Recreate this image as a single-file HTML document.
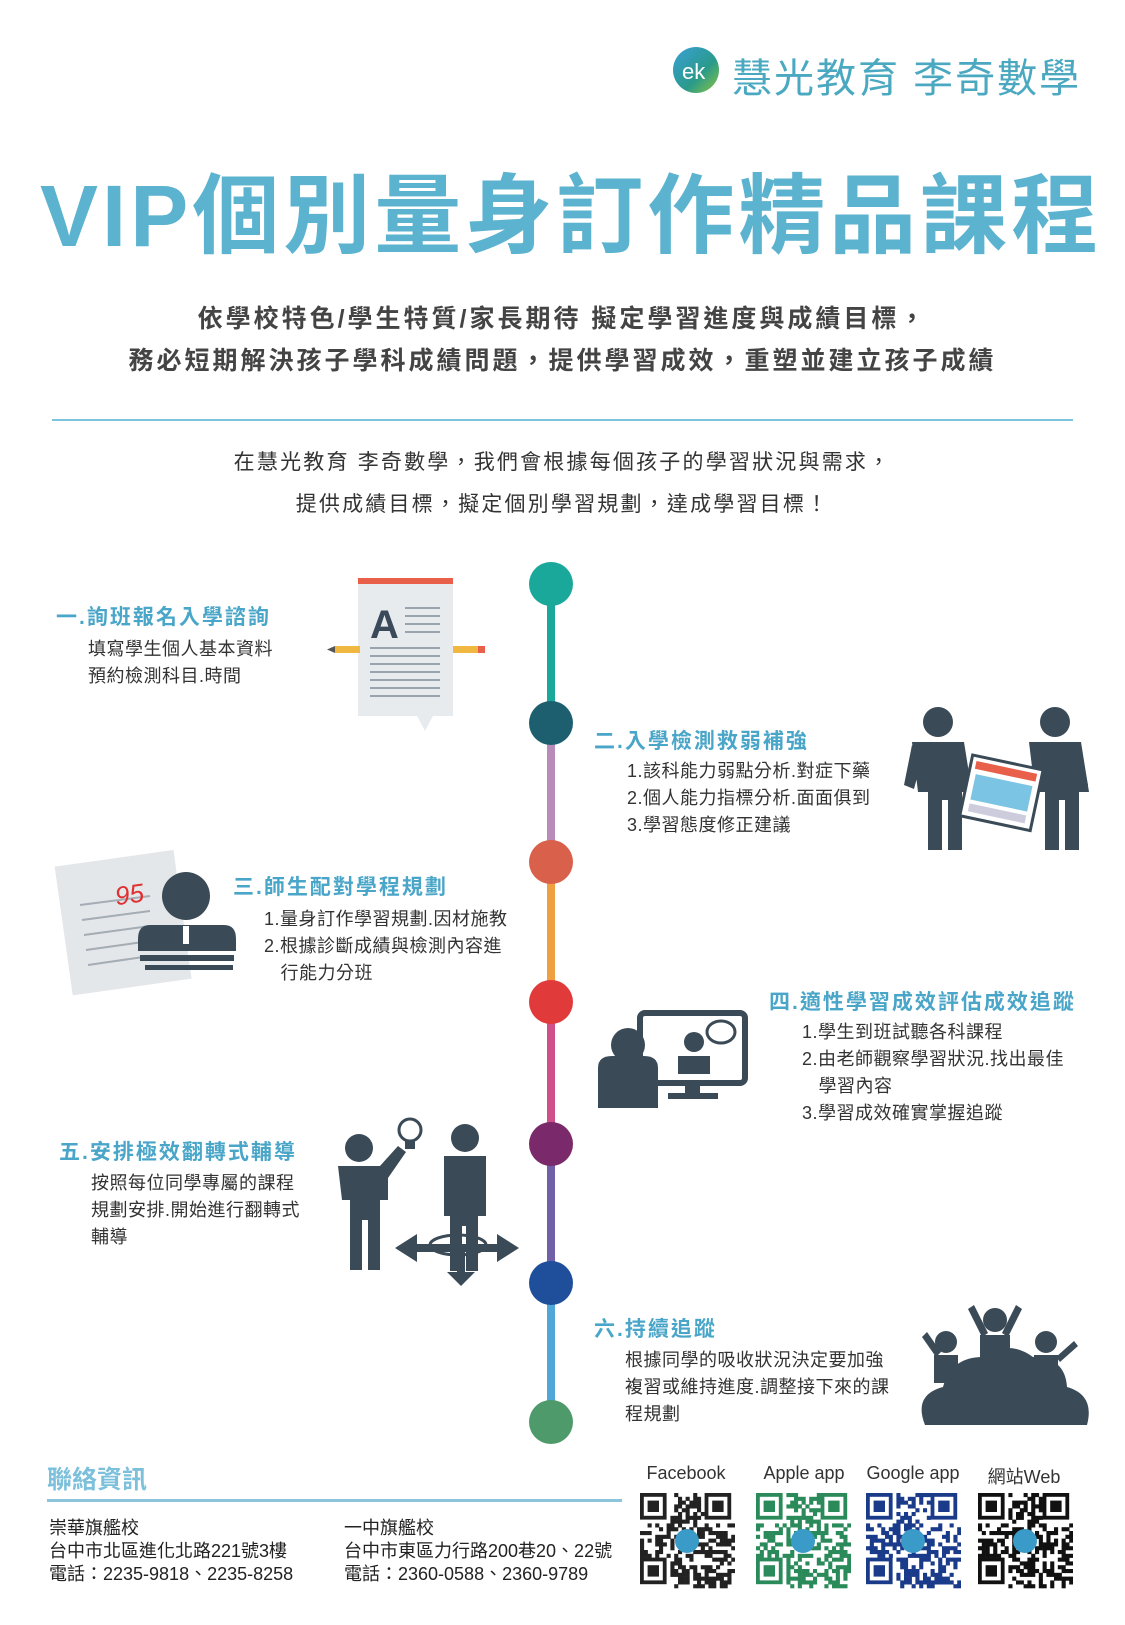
<!DOCTYPE html>
<html><head><meta charset="utf-8">
<style>
body{margin:0;background:#fff;}
#p{position:relative;width:1125px;height:1625px;overflow:hidden;font-family:"Liberation Sans","Noto Sans CJK TC",sans-serif;color:#333;}
.a{position:absolute;white-space:nowrap;}
.h{color:#4aa6c8;font-size:21px;font-weight:bold;letter-spacing:2px;}
.b{font-size:18px;color:#333;line-height:27px;letter-spacing:0.5px;}
.qr{position:absolute;top:1493px;width:95px;height:96px;}
</style></head><body><div id="p">
<!-- logo -->
<svg class="a" style="left:672px;top:46px" width="48" height="48"><defs><linearGradient id="lg" x1="0" y1="0" x2="1" y2="1"><stop offset="0" stop-color="#3aa0d8"/><stop offset=".6" stop-color="#2a9a8a"/><stop offset="1" stop-color="#8cc63f"/></linearGradient></defs><circle cx="24" cy="24" r="23" fill="url(#lg)"/><text x="10" y="33" fill="#fff" font-size="22" font-family="Liberation Sans">ek</text></svg>
<div class="a" style="left:732px;top:46px;font-size:40px;color:#4aa8c0;letter-spacing:2px">慧光教育 李奇數學</div>
<div class="a" style="left:40px;top:146px;font-size:87px;font-weight:bold;color:#5bb3cf;letter-spacing:4px">VIP個別量身訂作精品課程</div>
<div class="a" style="left:0;width:1125px;text-align:center;top:298px;font-size:25px;color:#444;font-weight:bold;letter-spacing:3px;line-height:42px">依學校特色/學生特質/家長期待 擬定學習進度與成績目標，<br>務必短期解決孩子學科成績問題，提供學習成效，重塑並建立孩子成績</div>
<div class="a" style="left:52px;top:419px;width:1021px;height:2px;background:#7cc4dc"></div>
<div class="a" style="left:0;width:1125px;text-align:center;top:442px;font-size:21px;color:#333;line-height:42px;letter-spacing:2.2px">在慧光教育 李奇數學，我們會根據每個孩子的學習狀況與需求，<br>提供成績目標，擬定個別學習規劃，達成學習目標！</div>

<!-- timeline -->
<svg class="a" style="left:0;top:0" width="1125" height="1625">
<g stroke-width="8">
<line x1="551" y1="584" x2="551" y2="723" stroke="#1aa89a"/>
<line x1="551" y1="723" x2="551" y2="862" stroke="#b98bb8"/>
<line x1="551" y1="862" x2="551" y2="1002" stroke="#f0a040"/>
<line x1="551" y1="1002" x2="551" y2="1144" stroke="#d0508a"/>
<line x1="551" y1="1144" x2="551" y2="1283" stroke="#7060a8"/>
<line x1="551" y1="1283" x2="551" y2="1422" stroke="#50a8d8"/>
</g>
<circle cx="551" cy="584" r="22" fill="#1aa89a"/>
<circle cx="551" cy="723" r="22" fill="#1e5f6f"/>
<circle cx="551" cy="862" r="22" fill="#d9604a"/>
<circle cx="551" cy="1002" r="22" fill="#e03a3a"/>
<circle cx="551" cy="1144" r="22" fill="#7a2a6a"/>
<circle cx="551" cy="1283" r="22" fill="#1f4f9a"/>
<circle cx="551" cy="1422" r="22" fill="#4e9a6a"/>

<!-- icon 1 document -->
<path d="M358 578h95v138h-20l-8 15-8-15h-59z" fill="#e8ebee"/>
<rect x="358" y="578" width="95" height="6" fill="#e8604a"/>
<text x="370" y="638" font-size="40" font-weight="bold" fill="#3a4a5a" font-family="Liberation Sans">A</text>
<g stroke="#9aa4ae" stroke-width="2"><line x1="405" y1="608" x2="440" y2="608"/><line x1="405" y1="616" x2="440" y2="616"/><line x1="405" y1="624" x2="440" y2="624"/><line x1="405" y1="632" x2="440" y2="632"/><line x1="370" y1="648" x2="440" y2="648"/><line x1="370" y1="656" x2="440" y2="656"/><line x1="370" y1="664" x2="440" y2="664"/><line x1="370" y1="672" x2="440" y2="672"/><line x1="370" y1="680" x2="440" y2="680"/><line x1="370" y1="688" x2="440" y2="688"/><line x1="370" y1="696" x2="440" y2="696"/></g>
<rect x="335" y="646" width="25" height="7" fill="#f0b840"/><path d="M335 646l-8 3.5 8 3.5z" fill="#555"/>
<rect x="453" y="646" width="30" height="7" fill="#f0b840"/><rect x="478" y="646" width="7" height="7" fill="#e8604a"/>

<!-- icon 2 people -->
<g fill="#3a4a56">
<circle cx="938" cy="722" r="15"/><path d="M912 742h52l8 50h-10v58h-14v-50h-6v50h-14v-58h-10z"/>
<circle cx="1055" cy="722" r="15"/><path d="M1029 742h52l8 50h-10v58h-14v-50h-6v50h-14v-58h-10z"/>
<path d="M912 745l-8 40 10 4 8-30z"/><path d="M1080 745l8 40-10 4-8-30z"/>
</g>
<g transform="rotate(12 1002 795)"><rect x="965" y="762" width="72" height="62" fill="#fff" stroke="#3a4a56" stroke-width="3"/><rect x="970" y="767" width="62" height="8" fill="#e8604a"/><rect x="972" y="780" width="58" height="26" fill="#7cc4e4"/><rect x="972" y="810" width="58" height="8" fill="#ccd"/></g>

<!-- icon 3 -->
<g transform="rotate(-8 120 915)"><rect x="62" y="858" width="120" height="130" fill="#e4e7ea"/></g>
<g stroke="#a4acb4" stroke-width="2"><line x1="80" y1="905" x2="150" y2="896"/><line x1="82" y1="920" x2="150" y2="911"/><line x1="84" y1="935" x2="150" y2="926"/><line x1="86" y1="950" x2="150" y2="941"/><line x1="88" y1="965" x2="150" y2="956"/></g>
<text x="115" y="904" font-size="26" fill="#e03030" font-style="italic" transform="rotate(-8 125 895)" font-family="Liberation Sans">95</text>
<g fill="#3a4a56"><circle cx="186" cy="896" r="24"/><path d="M150 925h74q12 0 12 14v12h-98v-12q0-14 12-14z"/><rect x="140" y="955" width="94" height="6"/><rect x="145" y="965" width="88" height="5"/></g>
<rect x="183" y="926" width="6" height="18" fill="#fff"/>

<!-- icon 4 -->
<rect x="640" y="1013" width="105" height="70" rx="5" fill="none" stroke="#3a4a56" stroke-width="6"/>
<rect x="685" y="1083" width="15" height="12" fill="#3a4a56"/><rect x="668" y="1093" width="50" height="6" fill="#3a4a56"/>
<g fill="#3a4a56"><circle cx="694" cy="1042" r="10"/><path d="M678 1056h32v18h-32z"/><circle cx="628" cy="1045" r="17"/><path d="M598 1068q0-12 14-12h32q14 0 14 12v40h-60z"/></g>
<ellipse cx="721" cy="1032" rx="14" ry="11" fill="#fff" stroke="#3a4a56" stroke-width="3"/>

<!-- icon 5 -->
<g fill="#3a4a56"><circle cx="359" cy="1148" r="14"/><path d="M338 1166h42l18-20 8 6-18 26v22h-8v70h-12v-50h-6v50h-12v-70h-8z"/>
<circle cx="465" cy="1138" r="14"/><path d="M444 1156h42v60h-8v55h-12v-45h-4v45h-12v-55h-6z"/>
<path d="M395 1248l22-14v10h80v-10l22 14-22 14v-10h-80v10z"/><path d="M457 1250v22h-10l14 14 14-14h-10v-22z"/></g>
<ellipse cx="458" cy="1245" rx="28" ry="10" fill="none" stroke="#3a4a56" stroke-width="3"/>
<circle cx="410" cy="1130" r="11" fill="#fff" stroke="#3a4a56" stroke-width="3"/><rect x="405" y="1141" width="10" height="8" fill="#3a4a56"/>

<!-- icon 6 -->
<g fill="#3a4a56"><path d="M925 1425q-12-30 18-38q8-30 40-30q25-18 50 0q32 0 34 30q28 8 20 38z"/>
<circle cx="995" cy="1320" r="12"/><path d="M980 1335h30v32h-30z"/><path d="M982 1337l-14-28 6-4 14 28z"/><path d="M1008 1337l14-28-6-4-14 28z"/>
<circle cx="946" cy="1342" r="11"/><path d="M934 1355h24v28h-24z"/><path d="M936 1357l-14-20 5-5 14 20z"/>
<circle cx="1046" cy="1342" r="11"/><path d="M1034 1355h24v28h-24z"/><path d="M1056 1357l18-16 4 5-18 16z"/></g>
</svg>

<div class="a h" style="left:56px;top:601px">一.詢班報名入學諮詢</div>
<div class="a b" style="left:88px;top:636px">填寫學生個人基本資料<br>預約檢測科目.時間</div>
<div class="a h" style="left:594px;top:725px">二.入學檢測救弱補強</div>
<div class="a b" style="left:627px;top:758px">1.該科能力弱點分析.對症下藥<br>2.個人能力指標分析.面面俱到<br>3.學習態度修正建議</div>
<div class="a h" style="left:233px;top:871px">三.師生配對學程規劃</div>
<div class="a b" style="left:264px;top:906px">1.量身訂作學習規劃.因材施教<br>2.根據診斷成績與檢測內容進<br>&nbsp;&nbsp;&nbsp;行能力分班</div>
<div class="a h" style="left:769px;top:986px">四.適性學習成效評估成效追蹤</div>
<div class="a b" style="left:802px;top:1019px">1.學生到班試聽各科課程<br>2.由老師觀察學習狀況.找出最佳<br>&nbsp;&nbsp;&nbsp;學習內容<br>3.學習成效確實掌握追蹤</div>
<div class="a h" style="left:59px;top:1136px">五.安排極效翻轉式輔導</div>
<div class="a b" style="left:91px;top:1170px">按照每位同學專屬的課程<br>規劃安排.開始進行翻轉式<br>輔導</div>
<div class="a h" style="left:594px;top:1313px">六.持續追蹤</div>
<div class="a b" style="left:625px;top:1347px">根據同學的吸收狀況決定要加強<br>複習或維持進度.調整接下來的課<br>程規劃</div>

<!-- footer -->
<div class="a" style="left:47px;top:1460px;font-size:25px;color:#7cc0dc;font-weight:bold">聯絡資訊</div>
<div class="a" style="left:47px;top:1499px;width:575px;height:3px;background:#8cc4dc"></div>
<div class="a" style="left:49px;top:1517px;font-size:18px;line-height:23px;color:#222">崇華旗艦校<br>台中市北區進化北路221號3樓<br>電話：2235-9818、2235-8258</div>
<div class="a" style="left:344px;top:1517px;font-size:18px;line-height:23px;color:#222">一中旗艦校<br>台中市東區力行路200巷20、22號<br>電話：2360-0588、2360-9789</div>
<div class="a" style="left:636px;top:1463px;width:100px;text-align:center;font-size:18px">Facebook</div>
<div class="a" style="left:754px;top:1463px;width:100px;text-align:center;font-size:18px">Apple app</div>
<div class="a" style="left:863px;top:1463px;width:100px;text-align:center;font-size:18px">Google app</div>
<div class="a" style="left:974px;top:1463px;width:100px;text-align:center;font-size:18px">網站Web</div>
<svg class="qr" id="q1" style="left:640px"></svg>
<svg class="qr" id="q2" style="left:756px"></svg>
<svg class="qr" id="q3" style="left:866px"></svg>
<svg class="qr" id="q4" style="left:978px"></svg>
<script>
var cols=["#222","#2a8a5a","#1a3a8a","#111"],ids=["q1","q2","q3","q4"],s=12345;
function r(){s=(s*1103515245+12345)%2147483648;return s/2147483648;}
ids.forEach(function(id,k){var c=cols[k],h="",n=25,w=95/n;
for(var y=0;y<n;y++)for(var x=0;x<n;x++){if((x<8&&y<8)||(x>16&&y<8)||(x<8&&y>16))continue;if(r()<0.5)h+='<rect x="'+(x*w).toFixed(1)+'" y="'+(y*w).toFixed(1)+'" width="'+(w+.3).toFixed(1)+'" height="'+(w+.3).toFixed(1)+'" fill="'+c+'"/>';}
[[0,0],[17,0],[0,17]].forEach(function(p){var X=p[0]*w,Y=p[1]*w;h+='<rect x="'+(X+w/2)+'" y="'+(Y+w/2)+'" width="'+(6*w)+'" height="'+(6*w)+'" fill="none" stroke="'+c+'" stroke-width="'+w+'"/><rect x="'+(X+2*w)+'" y="'+(Y+2*w)+'" width="'+(3*w)+'" height="'+(3*w)+'" fill="'+c+'"/>';});
h+='<circle cx="47" cy="48" r="12" fill="#3a9ac8"/>';
document.getElementById(id).innerHTML=h;});
</script>
</div></body></html>
